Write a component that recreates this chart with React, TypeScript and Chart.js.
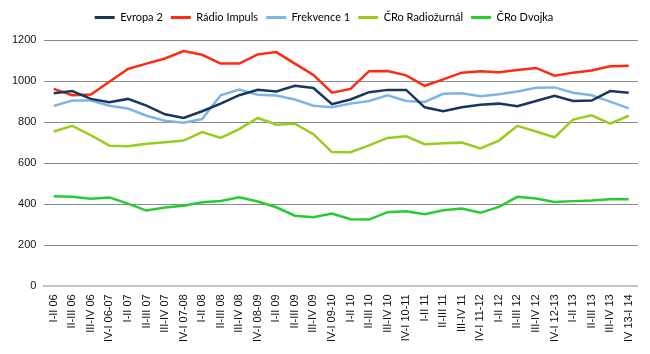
import React, { useEffect, useRef } from "react";
import { Chart, registerables } from "chart.js";

Chart.register(...registerables);

const categories = [
  "I-II 06", "II-III 06", "III-IV 06", "IV-I 06-07",
  "I-II 07", "II-III 07", "III-IV 07", "IV-I 07-08",
  "I-II 08", "II-III 08", "III-IV 08", "IV-I 08-09",
  "I-II 09", "II-III 09", "III-IV 09", "IV-I 09-10",
  "I-II 10", "II-III 10", "III-IV 10", "IV-I 10-11",
  "I-II 11", "II-III 11", "III-IV 11", "IV-I 11-12",
  "I-II 12", "II-III 12", "III-IV 12", "IV-I 12-13",
  "I-II 13", "II-III 13", "III-IV 13", "IV 13-I 14",
];

const evropa2 = [941, 951, 913, 897, 913, 880, 838, 820, 853, 890, 931, 957, 949, 977, 966, 887,
  910, 946, 957, 957, 872, 853, 872, 885, 890, 877, 903, 928, 903, 905, 951, 943];
const radioImpuls = [962, 931, 934, 997, 1059, 1085, 1110, 1146, 1128, 1085, 1085, 1130, 1141, 1085, 1030, 943,
  962, 1048, 1049, 1028, 977, 1008, 1041, 1048, 1043, 1054, 1064, 1026, 1041, 1051, 1072, 1074];
const frekvence1 = [879, 905, 905, 880, 866, 831, 807, 797, 815, 931, 959, 933, 930, 910, 880, 872,
  890, 903, 930, 903, 898, 938, 941, 926, 936, 949, 967, 969, 943, 931, 900, 867];
const radiozurnal = [754, 782, 736, 685, 682, 695, 702, 710, 751, 723, 766, 820, 787, 792, 741, 654,
  653, 687, 723, 731, 692, 697, 700, 672, 710, 782, 754, 726, 812, 833, 792, 831];
const dvojka = [439, 436, 426, 433, 403, 369, 384, 393, 410, 416, 434, 413, 385, 344, 336, 354,
  327, 325, 361, 366, 351, 371, 379, 358, 387, 436, 428, 411, 415, 418, 424, 424];

const seriesNames = ["Evropa 2", "Rádio Impuls", "Frekvence 1", "ČRo Radiožurnál", "ČRo Dvojka"];
const seriesColors = ["#17375E", "#FF2A12", "#7FB5E2", "#99CC1F", "#26CC30"];
const yTicks = [0, 200, 400, 600, 800, 1000, 1200];

const legendMargin = {
  id: "legendMargin",
  beforeInit(chart: any) {
    const legend = chart.legend;
    const origFit = legend.fit;
    legend.fit = function () {
      origFit.call(this);
      this.height += 7;
    };
  },
};

export default function App() {
  const ref = useRef<HTMLCanvasElement | null>(null);

  useEffect(() => {
    document.body.style.margin = "0";
    const all = [evropa2, radioImpuls, frekvence1, radiozurnal, dvojka];
    const chart = new Chart(ref.current!, {
      type: "line",
      data: {
        labels: categories,
        datasets: all.map((d, i) => ({
          label: seriesNames[i],
          data: d,
          borderColor: seriesColors[i],
          backgroundColor: seriesColors[i],
          borderWidth: 2.5,
          pointRadius: 0,
          tension: 0,
          fill: false,
        })),
      },
      plugins: [legendMargin],
      options: {
        animation: false,
        responsive: false,
        maintainAspectRatio: false,
        layout: { padding: { left: 4, right: 6, top: 4, bottom: 4 } },
        plugins: {
          tooltip: { enabled: false },
          legend: {
            position: "top",
            labels: {
              boxWidth: 20,
              boxHeight: 3,
              padding: 8,
              color: "#111",
              font: { family: "Lato, 'Open Sans', sans-serif", size: 11 },
              generateLabels: (c: any) =>
                c.data.datasets.map((ds: any, i: number) => ({
                  text: ds.label,
                  fillStyle: ds.borderColor,
                  strokeStyle: ds.borderColor,
                  lineWidth: 0,
                  hidden: false,
                  datasetIndex: i,
                })),
            },
          },
        },
        scales: {
          x: {
            offset: true,
            grid: { display: false, drawTicks: false },
            border: { display: true, color: "#c4c4c4", width: 2 },
            ticks: {
              minRotation: 90,
              maxRotation: 90,
              autoSkip: false,
              padding: 8,
              color: "#111",
              font: { family: "'Liberation Sans', Arial, sans-serif", size: 11 },
            },
          },
          y: {
            min: 0,
            max: 1200,
            afterBuildTicks: (axis: any) => {
              axis.ticks = yTicks.map((v) => ({ value: v }));
            },
            grid: {
              color: (ctx: any) => (ctx.tick && ctx.tick.value === 0 ? "rgba(0,0,0,0)" : "#8a8a8a"),
              drawTicks: false,
              lineWidth: 1,
            },
            border: { display: false },
            ticks: {
              padding: 8,
              color: "#111",
              font: { family: "'Liberation Sans', Arial, sans-serif", size: 11 },
              callback: (v: any) => String(v),
            },
          },
        },
      },
    });
    return () => chart.destroy();
  }, []);

  return (
    <div style={{ width: 650, height: 354 }}>
      <canvas ref={ref} width={650} height={354} style={{ display: "block" }} />
    </div>
  );
}
